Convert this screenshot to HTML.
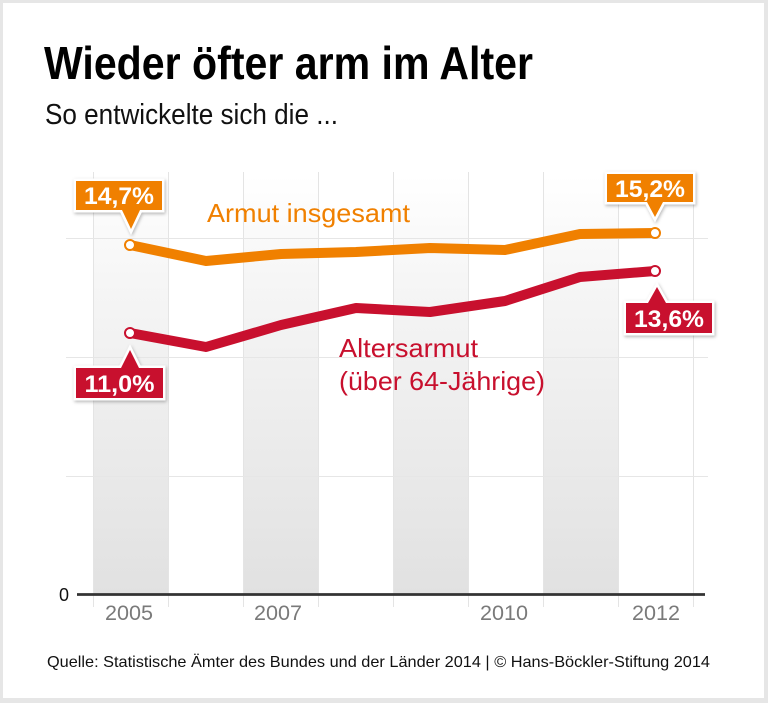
<!DOCTYPE html>
<html>
<head>
<meta charset="utf-8">
<style>
html,body{margin:0;padding:0;background:#fff;}
svg{display:block;}
text{font-family:"Liberation Sans",Arial,sans-serif;}
</style>
</head>
<body>
<svg width="768" height="703" viewBox="0 0 768 703" xmlns="http://www.w3.org/2000/svg">
  <defs>
    <linearGradient id="col" gradientUnits="userSpaceOnUse" x1="0" y1="175" x2="0" y2="594">
      <stop offset="0" stop-color="#ffffff"/>
      <stop offset="0.25" stop-color="#f6f6f6"/>
      <stop offset="1" stop-color="#e1e1e1"/>
    </linearGradient>
    <filter id="sh" x="-20%" y="-30%" width="140%" height="160%">
      <feDropShadow dx="1" dy="1.5" stdDeviation="1.5" flood-color="#000" flood-opacity="0.28"/>
    </filter>
  </defs>

  <!-- frame -->
  <rect x="0" y="0" width="768" height="703" fill="#e6e6e6"/>
  <rect x="3" y="3" width="761" height="695" fill="#ffffff"/>

  <!-- title -->
  <text x="44" y="79" font-size="46" font-weight="bold" fill="#000" textLength="489" lengthAdjust="spacingAndGlyphs">Wieder öfter arm im Alter</text>
  <text x="45" y="124" font-size="29" fill="#111" textLength="293" lengthAdjust="spacingAndGlyphs">So entwickelte sich die ...</text>

  <!-- shaded columns -->
  <rect x="93" y="175" width="75" height="419" fill="url(#col)"/>
  <rect x="243" y="175" width="75" height="419" fill="url(#col)"/>
  <rect x="393" y="175" width="75" height="419" fill="url(#col)"/>
  <rect x="543" y="175" width="75" height="419" fill="url(#col)"/>

  <!-- vertical grid lines -->
  <g stroke="#e4e4e4" stroke-width="1">
    <line x1="93.5" y1="172" x2="93.5" y2="607"/>
    <line x1="168.5" y1="172" x2="168.5" y2="607"/>
    <line x1="243.5" y1="172" x2="243.5" y2="607"/>
    <line x1="318.5" y1="172" x2="318.5" y2="607"/>
    <line x1="393.5" y1="172" x2="393.5" y2="607"/>
    <line x1="468.5" y1="172" x2="468.5" y2="607"/>
    <line x1="543.5" y1="172" x2="543.5" y2="607"/>
    <line x1="618.5" y1="172" x2="618.5" y2="607"/>
    <line x1="693.5" y1="172" x2="693.5" y2="607"/>
  </g>
  <!-- horizontal grid lines -->
  <g stroke="#e6e6e6" stroke-width="1">
    <line x1="66" y1="238.5" x2="708" y2="238.5"/>
    <line x1="66" y1="357.5" x2="708" y2="357.5"/>
    <line x1="66" y1="476.5" x2="708" y2="476.5"/>
  </g>

  <!-- axis -->
  <line x1="77" y1="594.5" x2="705" y2="594.5" stroke="#333" stroke-width="2.7"/>
  <text x="59" y="601" font-size="18" fill="#111">0</text>

  <!-- year labels -->
  <g font-size="21" fill="#7a7a7a" text-anchor="middle">
    <text x="129" y="620" textLength="48" lengthAdjust="spacingAndGlyphs">2005</text>
    <text x="278" y="620" textLength="48" lengthAdjust="spacingAndGlyphs">2007</text>
    <text x="504" y="620" textLength="48" lengthAdjust="spacingAndGlyphs">2010</text>
    <text x="656" y="620" textLength="48" lengthAdjust="spacingAndGlyphs">2012</text>
  </g>

  <!-- series labels -->
  <text x="207" y="222" font-size="26" fill="#f08000" textLength="203" lengthAdjust="spacingAndGlyphs">Armut insgesamt</text>
  <text x="339" y="357" font-size="26" fill="#c8102e" textLength="139" lengthAdjust="spacingAndGlyphs">Altersarmut</text>
  <text x="339" y="390" font-size="26" fill="#c8102e" textLength="206" lengthAdjust="spacingAndGlyphs">(über 64-Jährige)</text>

  <!-- lines -->
  <polyline fill="none" stroke="#f08000" stroke-width="10" stroke-linejoin="round"
    points="130,245 206,261 281,254 356,252 430,248 505,250 580,234 655,233"/>
  <polyline fill="none" stroke="#c8102e" stroke-width="10" stroke-linejoin="round"
    points="130,333 206,347 281,325 356,308 430,312 505,301 580,277 655,271"/>

  <circle cx="130" cy="245" r="5" fill="#fff" stroke="#f08000" stroke-width="2"/>
  <circle cx="655" cy="233" r="5" fill="#fff" stroke="#f08000" stroke-width="2"/>
  <circle cx="130" cy="333" r="5" fill="#fff" stroke="#c8102e" stroke-width="2"/>
  <circle cx="655" cy="271" r="5" fill="#fff" stroke="#c8102e" stroke-width="2"/>

  <!-- callouts: outline + shadow -->
  <g filter="url(#sh)" fill="#fff" stroke="#fff" stroke-width="5" stroke-linejoin="miter">
    <path d="M76,181 H162 V210 H140 L131,229 L122,210 H76 Z"/>
    <path d="M607,174 H693 V202 H663 L655,217 L647,202 H607 Z"/>
    <path d="M76,368 H121 L130,350 L139,368 H163 V398 H76 Z"/>
    <path d="M626,303 H648 L657,287 L666,303 H712 V333 H626 Z"/>
  </g>
  <path d="M76,181 H162 V210 H140 L131,229 L122,210 H76 Z" fill="#f08000"/>
  <path d="M607,174 H693 V202 H663 L655,217 L647,202 H607 Z" fill="#f08000"/>
  <path d="M76,368 H121 L130,350 L139,368 H163 V398 H76 Z" fill="#c8102e"/>
  <path d="M626,303 H648 L657,287 L666,303 H712 V333 H626 Z" fill="#c8102e"/>

  <g font-size="24" font-weight="bold" fill="#fff" text-anchor="middle">
    <text x="119" y="204" textLength="70" lengthAdjust="spacingAndGlyphs">14,7%</text>
    <text x="650" y="197" textLength="70" lengthAdjust="spacingAndGlyphs">15,2%</text>
    <text x="119.5" y="392" textLength="70" lengthAdjust="spacingAndGlyphs">11,0%</text>
    <text x="669" y="327" textLength="70" lengthAdjust="spacingAndGlyphs">13,6%</text>
  </g>

  <!-- footer -->
  <text x="47" y="667" font-size="16" fill="#111" textLength="663" lengthAdjust="spacingAndGlyphs">Quelle: Statistische Ämter des Bundes und der Länder 2014 | © Hans-Böckler-Stiftung 2014</text>
</svg>
</body>
</html>
